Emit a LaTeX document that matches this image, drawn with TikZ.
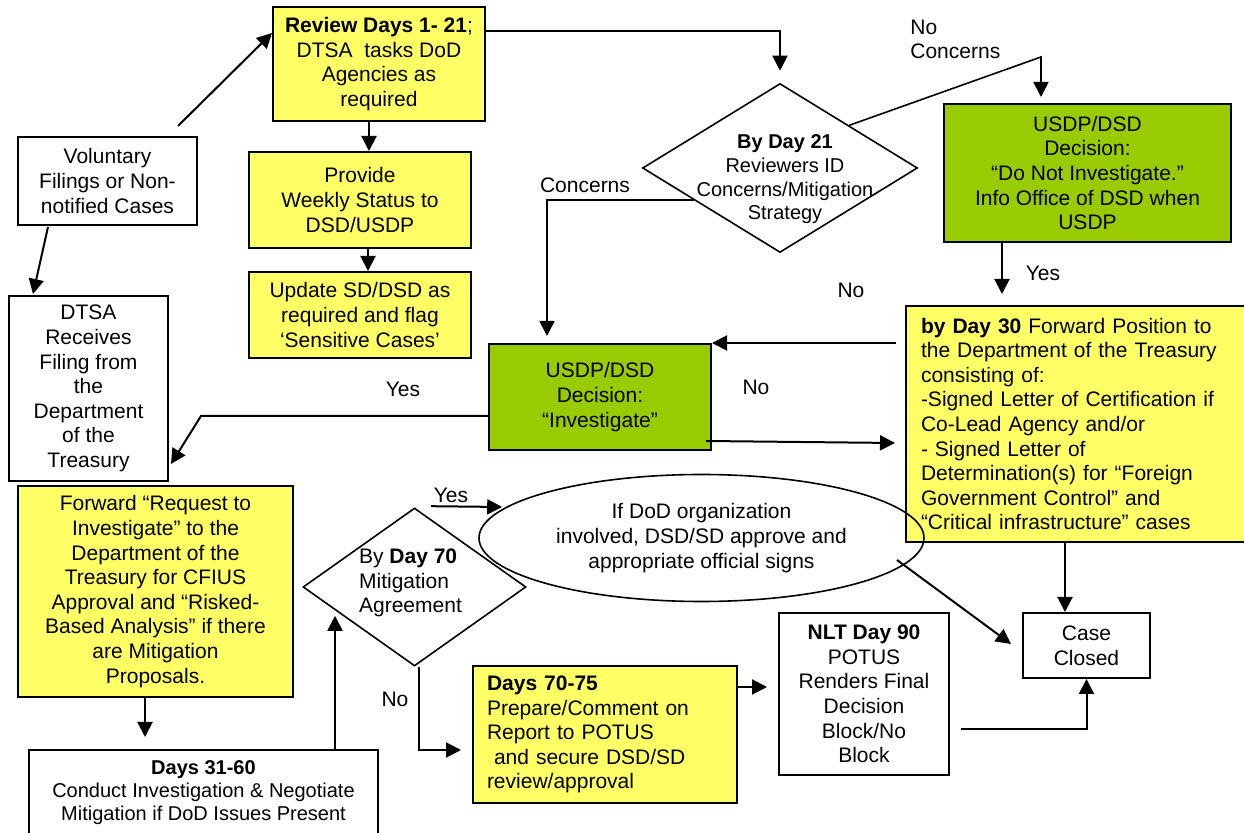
\documentclass[tikz,border=0pt]{standalone}
\usepackage{fontspec}
\setmainfont{Liberation Sans}
\usetikzlibrary{shapes.geometric, arrows.meta, positioning, calc}
\definecolor{paleyellow}{HTML}{FFFF66}
\definecolor{leafgreen}{HTML}{99CC00}
\tikzstyle{plainbox} = [
    rectangle,
    draw=black,
    line width=1pt,
    fill=white,
    align=center,
    inner sep=2pt,
    font=\fontsize{10.5}{12.3}\selectfont
]
\tikzstyle{yellowbox} = [plainbox, fill=paleyellow]
\tikzstyle{greenbox} = [plainbox, fill=leafgreen]
\tikzstyle{decision} = [
    diamond,
    draw=black,
    line width=0.8pt,
    inner sep=0pt
]
\tikzstyle{oval} = [
    ellipse,
    draw=black,
    line width=0.8pt,
    inner sep=0pt,
    align=center,
    font=\fontsize{10.5}{12.3}\selectfont
]
\tikzstyle{tag} = [inner sep=0pt, font=\fontsize{10.5}{12.3}\selectfont]
\tikzstyle{arrow} = [line width=1pt, -{Triangle[length=7.5pt,width=7.5pt]}]

\begin{document}
\begin{tikzpicture}[x=0.5pt, y=-0.5pt]
\useasboundingbox (0,0) rectangle (1244,833);

% Nodes
\node (vol) [plainbox, minimum width=89.5pt, minimum height=44pt] at (107.5,181) {Voluntary\\Filings or Non-\\notified Cases};
\node (dtsa) [plainbox, minimum width=79.5pt, minimum height=92.5pt] at (88.5,388.5) {DTSA\\Receives\\Filing from\\the\\Department\\of the\\Treasury};
\node (review) [yellowbox, minimum width=106pt, minimum height=57pt] at (379,64) {\textbf{Review Days 1- 21};\\DTSA\ \ tasks DoD\\Agencies as\\required};
\node (provide) [yellowbox, minimum width=111pt, minimum height=48pt] at (360,200) {Provide\\Weekly Status to\\DSD/USDP};
\node (update) [yellowbox, minimum width=111pt, minimum height=43pt] at (360,315) {Update SD/DSD as\\required and flag\\‘Sensitive Cases’};
\node (d21) [decision, minimum width=137.5pt, minimum height=84.5pt] at (780,168) {};
\node (d21text) [tag, align=center, font=\fontsize{10}{11.85}\selectfont, xshift=2.5pt, yshift=-5.75pt] at (d21) {\textbf{By Day 21}\\Reviewers ID\\Concerns/Mitigation\\Strategy};
\node (usdpno) [greenbox, minimum width=143.5pt, minimum height=69pt] at (1087.5,173) {USDP/DSD\\Decision:\\“Do Not Investigate.”\\Info Office of DSD when\\USDP};
\node (usdpyes) [greenbox, minimum width=111pt, minimum height=53pt] at (600,397) {USDP/DSD\\Decision:\\“Investigate”};
\node (day30) [yellowbox, align=left, text width=160pt, inner xsep=7.5pt, minimum height=118pt] at (1081,424) {\textbf{by Day 30} Forward Position to\\the Department of the Treasury\\consisting of:\\-Signed Letter of Certification if\\Co-Lead Agency and/or\\- Signed Letter of\\Determination(s) for “Foreign\\Government Control” and\\“Critical infrastructure” cases};
\node (forward) [yellowbox, minimum width=137.5pt, minimum height=105.5pt] at (155.5,591.5) {Forward “Request to\\Investigate” to the\\Department of the\\Treasury for CFIUS\\Approval and “Risked-\\Based Analysis” if there\\are Mitigation\\Proposals.};
\node (inv) [plainbox, minimum width=174.5pt, minimum height=43pt, font=\fontsize{10}{11.5}\selectfont] at (203.5,793) {\textbf{Days 31-60}\\Conduct Investigation \& Negotiate\\Mitigation if DoD Issues Present};
\node (d70) [decision, minimum width=111.5pt, minimum height=79pt] at (414.5,587) {};
\node (d70text) [tag, align=left, xshift=-2pt, yshift=2pt] at (d70) {By \textbf{Day 70}\\Mitigation\\Agreement};
\node (report) [yellowbox, align=left, text width=118pt, inner xsep=7pt, minimum height=68.5pt] at (605,734.5) {\textbf{Days 70-75}\\Prepare/Comment on\\Report to POTUS\\\ and secure DSD/SD\\review/approval};
\node (potus) [plainbox, minimum width=85pt, minimum height=81pt] at (864,694) {\textbf{NLT Day 90}\\POTUS\\Renders Final\\Decision\\Block/No\\Block};
\node (closed) [plainbox, minimum width=63.5pt, minimum height=32.5pt] at (1086.5,645.5) {Case\\Closed};
\node (sign) [oval, minimum width=222.5pt, minimum height=63.5pt] at (701.5,538) {If DoD organization\\involved, DSD/SD approve and\\appropriate official signs};

% Labels
\node (noconc) [tag, align=left, anchor=west] at (910,39.5) {No\\Concerns};
\node (conc) [tag] at (585,185) {Concerns};
\node (noa) [tag] at (851,290) {No};
\node (yesa) [tag] at (1043,273) {Yes};
\node (yesb) [tag] at (403,389) {Yes};
\node (nob) [tag] at (756,387) {No};
\node (yesc) [tag] at (451,495) {Yes};
\node (noc) [tag] at (395,699) {No};

% Bends
\coordinate (ncbend) at (1041,57);
\coordinate (yesbend) at (201,416);

% Arrows
\draw [arrow] ([xshift=-10pt,yshift=5pt]vol.north east) -- ([yshift=15.5pt]review.west);
\draw [arrow] ([xshift=-29.75pt,yshift=-0.5pt]vol.south) -- ([xshift=-27.75pt,yshift=0.5pt]dtsa.north);
\draw [arrow] ([xshift=-5pt]review.south) -- ([xshift=4.5pt]provide.north);
\draw [arrow] ([xshift=4pt]provide.south) -- ([xshift=4pt]update.north);
\draw [arrow, shorten >=6pt] ([yshift=16.5pt]review.east) -| (d21.north);
\draw [arrow, line width=0.8pt, shorten >=3pt] (d21.north east) -- (ncbend) -- (ncbend |- usdpno.north);
\draw [arrow, line width=0.8pt, shorten >=3.5pt] ($(d21.west)!0.375!(d21.south)$) -| ([xshift=-26.5pt]usdpyes.north);
\draw [arrow, shorten >=5.5pt] ([xshift=-42.75pt]usdpno.south) -- ([xshift=-39.5pt]day30.north);
\draw [arrow] ([xshift=-4.5pt,yshift=40.5pt]day30.west) -- (usdpyes.north east);
\draw [arrow] ([xshift=-3pt,yshift=5pt]usdpyes.south east) -- ([xshift=-5pt,yshift=-9.5pt]day30.west);
\draw [arrow] ([yshift=-9.5pt]usdpyes.west) -- (yesbend) -- ([xshift=1pt,yshift=9pt]dtsa.south east);
\draw [arrow, shorten >=6pt] ([xshift=-5.25pt]forward.south) -- ([xshift=-29.25pt]inv.north);
\draw [arrow] ([xshift=65.75pt]inv.north) -- ([xshift=-39.75pt,yshift=25.5pt]d70.south);
\draw [arrow] ([xshift=2.25pt]d70.south) |- ([xshift=-5.5pt,yshift=-7.75pt]report.west);
\draw [arrow] ([xshift=8.25pt,yshift=0.5pt]d70.north) -- ([xshift=12pt,yshift=15.5pt]sign.west);
\draw [arrow] ([yshift=23.75pt]report.east) -- ([xshift=-5.5pt,yshift=3.5pt]potus.west);
\draw [arrow] ([xshift=5.5pt,yshift=-17.5pt]potus.east) -| (closed.south);
\draw [arrow] ([xshift=-8pt]day30.south) -- ([xshift=-10.75pt]closed.north);
\draw [arrow] ([xshift=97.75pt,yshift=-11pt]sign.center) -- ([xshift=-5.5pt,yshift=0.75pt]closed.west);

\end{tikzpicture}
\end{document}
